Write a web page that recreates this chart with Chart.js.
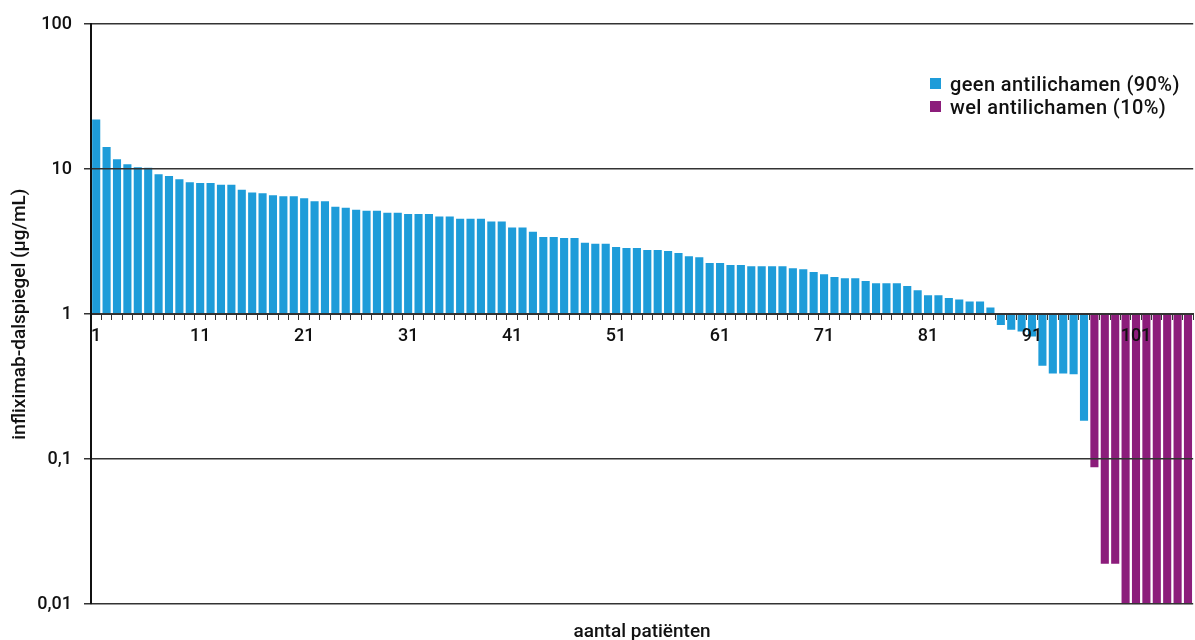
<!DOCTYPE html>
<html>
<head>
<meta charset="utf-8">
<script src="https://cdn.jsdelivr.net/npm/chart.js@4/dist/chart.umd.min.js"></script>
<style>
    body { margin: 0; background: #fff; }
    #wrap { position: relative; width: 1195px; height: 640px; }
    #legenda {
        position: absolute; left: 930px; top: 72px;
        font-family: Roboto, sans-serif; font-size: 20px; font-weight: 500; color: #111;
        letter-spacing: 0.4px;
    }
    #legenda div { display: flex; align-items: center; height: 23px; white-space: nowrap; }
    #legenda span.box { display: inline-block; width: 11px; height: 11px; margin-right: 9px; }
</style>
</head>
<body>
<div id="wrap">
    <canvas id="grafico" width="1195" height="640"></canvas>
    <div id="legenda"></div>
</div>
<script>
const patienten = Array.from({ length: 106 }, (_, i) => String(i + 1));

const geenAntilichamen = [
    22, 14.2, 11.7, 10.8, 10.3, 10.2, 9.2, 8.95, 8.5, 8.1,
    8.0, 8.0, 7.8, 7.8, 7.2, 6.9, 6.8, 6.6, 6.5, 6.5,
    6.3, 6.0, 6.0, 5.5, 5.4, 5.24, 5.16, 5.16, 5.0, 5.0,
    4.9, 4.9, 4.9, 4.7, 4.7, 4.55, 4.55, 4.55, 4.35, 4.35,
    3.95, 3.95, 3.7, 3.4, 3.4, 3.35, 3.35, 3.1, 3.05, 3.05,
    2.9, 2.85, 2.85, 2.77, 2.77, 2.72, 2.64, 2.51, 2.47, 2.25,
    2.25, 2.18, 2.18, 2.14, 2.14, 2.14, 2.14, 2.07, 2.04, 1.95,
    1.88, 1.8, 1.77, 1.77, 1.69, 1.63, 1.63, 1.63, 1.56, 1.46,
    1.35, 1.35, 1.29, 1.26, 1.22, 1.22, 1.11, 0.84, 0.78, 0.76,
    0.7, 0.44, 0.39, 0.39, 0.385, 0.184
];

const welAntilichamen = [0.088, 0.019, 0.019, 0.01, 0.01, 0.01, 0.01, 0.01, 0.01, 0.01];

const yTickWaarden = [0.01, 0.1, 1, 10, 100];
const yTickLabels = ["0,01", "0,1", "1", "10", "100"];

const blauw = "#1E9CD9";
const paars = "#8C1D7B";
const lijn = "#333333";

function opvullen(lijst, voor, totaal) {
    const uit = Array(voor).fill(null).concat(lijst);
    while (uit.length < totaal) uit.push(null);
    return uit;
}

const datasets = [{
    label: "geen antilichamen (90%)",
    data: opvullen(geenAntilichamen, 0, patienten.length),
    backgroundColor: blauw
}, {
    label: "wel antilichamen (10%)",
    data: opvullen(welAntilichamen, geenAntilichamen.length, patienten.length),
    backgroundColor: paars
}];

Chart.defaults.font.family = "Roboto, sans-serif";
Chart.defaults.font.size = 18;
Chart.defaults.font.weight = 500;
Chart.defaults.color = "#111";

new Chart(document.getElementById("grafico"), {
    type: "bar",
    data: {
        labels: patienten,
        datasets: datasets.map(d => ({
            ...d,
            base: 1,
            grouped: false,
            categoryPercentage: 1,
            barPercentage: 0.78
        }))
    },
    options: {
        responsive: false,
        animation: false,
        layout: { padding: { top: 24, right: 1, left: 0, bottom: 0 } },
        plugins: {
            legend: { display: false },
            tooltip: { enabled: false }
        },
        scales: {
            x: {
                type: "category",
                position: { y: 1 },
                grid: {
                    display: true,
                    drawOnChartArea: false,
                    offset: true,
                    tickLength: 5,
                    color: lijn,
                    lineWidth: 1,
                    z: 1
                },
                border: { display: true, color: lijn, width: 2, z: 1 },
                ticks: {
                    z: 1,
                    autoSkip: false,
                    maxRotation: 0,
                    padding: 7,
                    callback: function (val, i) {
                        return i % 10 === 0 ? patienten[i] : "";
                    }
                }
            },
            x2: {
                type: "category",
                position: "bottom",
                grid: { display: false, drawTicks: false },
                border: { display: false },
                ticks: { display: false },
                title: {
                    display: true,
                    text: "aantal patiënten",
                    font: { size: 19 },
                    padding: { top: 17, bottom: -4 }
                }
            },
            y: {
                type: "logarithmic",
                min: 0.01,
                max: 100,
                afterBuildTicks: axis => {
                    axis.ticks = yTickWaarden.map(v => ({ value: v }));
                },
                afterFit: axis => {
                    axis.width = 91;
                },
                grid: {
                    color: lijn,
                    lineWidth: 1.5,
                    tickLength: 7,
                    z: 1
                },
                border: { display: true, color: "#111", width: 2, z: 1 },
                ticks: {
                    padding: 12,
                    callback: function (val) {
                        const i = yTickWaarden.indexOf(val);
                        return i >= 0 ? yTickLabels[i] : "";
                    }
                },
                title: {
                    display: true,
                    text: "infliximab-dalspiegel (µg/mL)",
                    font: { size: 19 },
                    padding: { top: 9, bottom: 0 }
                }
            }
        }
    }
});

const legenda = document.getElementById("legenda");
datasets.forEach(d => {
    const rij = document.createElement("div");
    rij.innerHTML = `<span class="box" style="background:${d.backgroundColor}"></span>${d.label}`;
    legenda.appendChild(rij);
});
</script>
</body>
</html>
